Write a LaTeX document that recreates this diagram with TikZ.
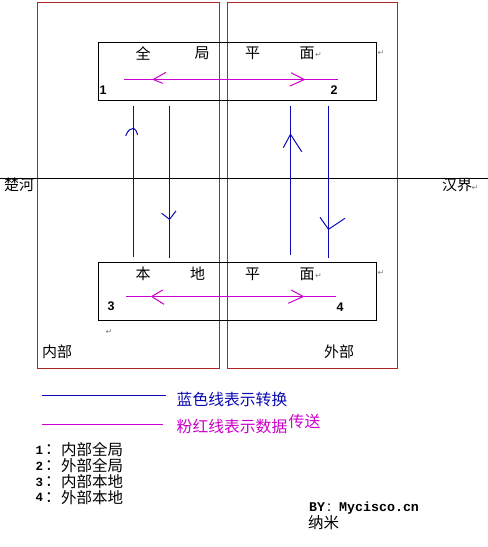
\documentclass[tikz,border=0pt]{standalone}
\usepackage{fontspec}
\setmainfont{Noto Sans CJK SC}
\newfontfamily\latf{Liberation Sans}
\newfontfamily\monof{Liberation Mono}
\newfontfamily\symf{DejaVu Sans}
\definecolor{redline}{RGB}{170,40,40}
\definecolor{blueline}{RGB}{10,10,180}
\definecolor{pinkline}{RGB}{204,0,204}
\begin{document}
\begin{tikzpicture}[x=1pt,y=-1pt,
  region/.style={draw=redline, line width=1.3pt},
  plane/.style={draw=black, line width=1pt, minimum width=278pt, minimum height=58pt, inner sep=0, anchor=north west},
  conv/.style={draw=blueline, line width=1.2pt},
  xfer/.style={draw=pinkline, line width=1.2pt},
  cjk/.style={inner sep=0, font=\fontsize{15}{15}\selectfont},
  legtxt/.style={inner sep=0, anchor=west, font=\fontsize{15.8}{16}\selectfont},
  num/.style={inner sep=0, font=\latf\bfseries\fontsize{12.5}{12.5}\selectfont},
  ret/.style={inner sep=0, text=gray, font=\symf\fontsize{8}{8}\selectfont},
]
\useasboundingbox (0,0) rectangle (488,547);
\fill[white] (0,0) rectangle (488,547);

% regions
\draw[region] (37.5,2.5) rectangle (219.5,368.5);
\draw[region] (227.5,2.5) rectangle (397.5,368.5);

% river line
\coordinate (rl) at (0,178.5);
\coordinate (rr) at (488,178.5);
\draw[black, line width=1pt] (rl) -- (rr);

% planes
\node[plane] (gp) at (97.5,41.5) {};
\node[plane] (lp) at (97.5,261.5) {};

% plane texts
\foreach \x/\c in {143/全, 202/局, 252.5/平, 307/面}
  \node[cjk] at (\x,53.5) {\c};
\foreach \x/\c in {143/本, 197.5/地, 252.5/平, 307/面}
  \node[cjk] at (\x,274) {\c};
\node[num] (n1) at (103,90) {1};
\node[num] (n2) at (334,90) {2};
\node[num] (n3) at (111,306.7) {3};
\node[num] (n4) at (340,307) {4};

% return marks
\node[ret] at (318.5,54.5) {↵};
\node[ret] at (381,53) {↵};
\node[ret] at (318.5,276) {↵};
\node[ret] at (381,273) {↵};
\node[ret] at (109,332) {↵};
\node[ret] at (475,188) {↵};

% blue conversion lines
\coordinate (b1t) at (133.5,105.5); \coordinate (b1b) at (133.5,256.5);
\coordinate (b2t) at (169.5,105.5); \coordinate (b2b) at (169.5,257.5);
\coordinate (b3t) at (290.5,105.5); \coordinate (b3b) at (290.5,255);
\coordinate (b4t) at (328.5,105.5); \coordinate (b4b) at (328.5,257.5);
\draw[conv] (b1b) -- (b1t);
\draw[conv] (b2t) -- (b2b);
\draw[conv] (b3b) -- (b3t);
\draw[conv] (b4t) -- (b4b);
\draw[conv, line width=1pt] (125.7,136) .. controls (128,130) and (130.5,128.3) .. (133.5,128.3) .. controls (135,128.3) and (136.5,131) .. (137.7,135);
\draw[conv, line width=1pt] (161.7,213.3) -- (169.5,219.3) -- (176,211);
\draw[conv, line width=1pt] (283.3,147.7) -- (290.5,134.3) -- (301.7,151.7);
\draw[conv, line width=1pt] (320,217.3) -- (328.5,229.3) -- (345,218.3);

% pink transfer lines
\coordinate (p1l) at (124,79.5); \coordinate (p1r) at (337.7,79.5);
\coordinate (p2l) at (126,296.5); \coordinate (p2r) at (336,296.5);
\draw[xfer] (p1l) -- (p1r);
\draw[xfer] (p2l) -- (p2r);
\draw[xfer, line width=1pt] (166,72.3) -- (153.3,79.5) -- (162.7,83.3);
\draw[xfer, line width=1pt] (291,72.7) -- (304.3,79.5) -- (290,86);
\draw[xfer, line width=1pt] (162.7,290) -- (151.7,296.5) -- (164,304.3);
\draw[xfer, line width=1pt] (291,290) -- (303.3,296.5) -- (288.3,303.3);

% side labels
\node[cjk, anchor=west] (chu) at (4,185) {楚河};
\node[cjk, anchor=west] (han) at (442,185) {汉界};
\node[cjk, anchor=west] (nei) at (42,352) {内部};
\node[cjk, anchor=west] (wai) at (324,352) {外部};

% legend
\coordinate (lb1) at (41.7,395.5); \coordinate (lb2) at (165.7,395.5);
\coordinate (lp1) at (41.7,424.5); \coordinate (lp2) at (162.7,424.5);
\draw[conv] (lb1) -- (lb2);
\draw[xfer, line width=1pt] (lp1) -- (lp2);
\node[legtxt, text=blueline] (lgb) at (176.5,399.5) {蓝色线表示转换};
\node[legtxt, text=pinkline] (lgp) at (176.5,426.5) {粉红线表示数据};
\node[legtxt, text=pinkline] (lgp2) at (lgp.east |- 0,421) {\kern1pt 传送};

% numbered list
\foreach \y/\n/\t in {450/1/内部全局, 466/2/外部全局, 482/3/内部本地, 497.5/4/外部本地}{
  \node[inner sep=0, anchor=west, font=\monof\bfseries\fontsize{12.5}{12.5}\selectfont] at (35.5,\y) {\n};
  \node[inner sep=0, anchor=west, font=\fontsize{15.5}{15.5}\selectfont] at (45,\y) {：};
  \node[inner sep=0, anchor=west, font=\fontsize{15.5}{15.5}\selectfont] at (61,\y) {\t};
}

% credit
\node[inner sep=0, anchor=west, font=\monof\bfseries\fontsize{13.3}{13.3}\selectfont] (by) at (309,508) {BY\hbox to 14pt{\hss\normalfont\fontsize{12}{12}\selectfont ：\hss}Mycisco.cn};
\node[inner sep=0, anchor=west, font=\fontsize{15.5}{15.5}\selectfont] (nm) at (308,523) {纳米};
\end{tikzpicture}
\end{document}
